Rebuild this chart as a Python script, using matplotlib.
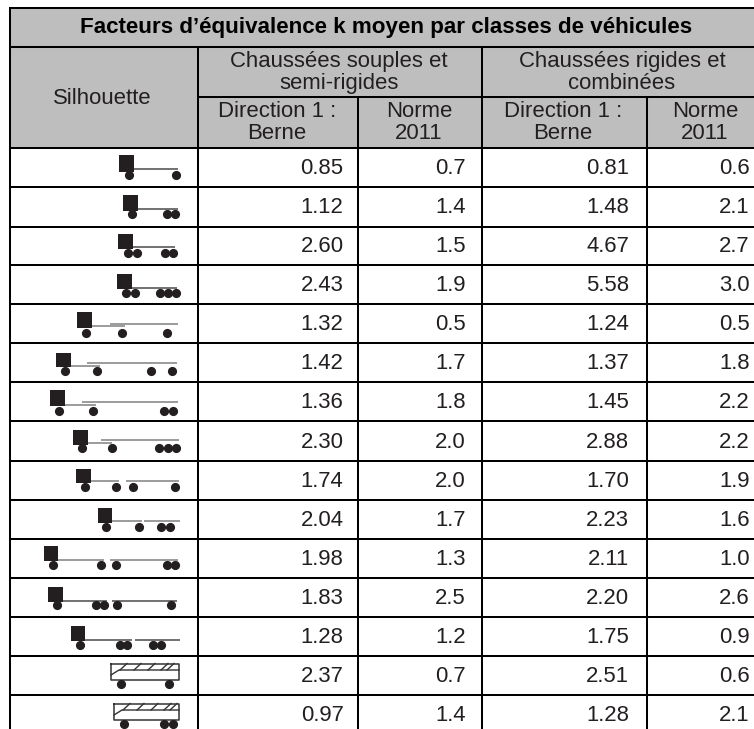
import matplotlib
matplotlib.use("Agg")
import matplotlib.pyplot as plt

plt.rcParams['font.family'] = ['Liberation Sans', 'DejaVu Sans']

title = "Facteurs d\u2019équivalence k moyen par classes de véhicules"
group_labels = ["Chaussées souples et\nsemi-rigides", "Chaussées rigides et\ncombinées"]
sub_labels = ["Direction 1 :\nBerne", "Norme\n2011", "Direction 1 :\nBerne", "Norme\n2011"]

souple_berne = ["0.85", "1.12", "2.60", "2.43", "1.32", "1.42", "1.36", "2.30", "1.74", "2.04", "1.98", "1.83", "1.28", "2.37", "0.97"]
souple_norme = ["0.7", "1.4", "1.5", "1.9", "0.5", "1.7", "1.8", "2.0", "2.0", "1.7", "1.3", "2.5", "1.2", "0.7", "1.4"]
rigide_berne = ["0.81", "1.48", "4.67", "5.58", "1.24", "1.37", "1.45", "2.88", "1.70", "2.23", "2.11", "2.20", "1.75", "2.51", "1.28"]
rigide_norme = ["0.6", "2.1", "2.7", "3.0", "0.5", "1.8", "2.2", "2.2", "1.9", "1.6", "1.0", "2.6", "0.9", "0.6", "2.1"]

# table grid, in pixels of the picture
row_y = [147.5, 186.5, 226.5, 265, 304, 343, 382, 421, 461, 500, 539, 578, 617, 656, 695, 734]
col_x = [10, 197.5, 357.5, 481.5, 646.5, 754]
right_x = [343.5, 466, 629, 750]

# silhouettes: cab left edge, cab top, cab bottom, trailer bars (x0, x1, y, grey), wheel y, wheels x
trucks = [
    (119, 155, 172, [(134, 178, 169, False)], 175, [129, 176]),
    (123, 195, 211, [(137, 178, 208.7, False)], 214, [132, 167, 175]),
    (118, 234, 249, [(132, 175, 247.3, False)], 253.3, [128, 137, 165, 173]),
    (117, 274, 289, [(130, 177, 287.7, False)], 292.7, [126, 135, 160, 168, 176]),
    (77, 312, 328, [(90, 125, 326, True), (110, 178, 324, True)], 333, [86, 121.5, 167]),
    (56, 352.7, 367, [(69, 100, 366, True), (87, 177, 363.3, True)], 371, [65, 97, 151, 172]),
    (50, 390, 406, [(63, 96, 405, True), (82, 178, 402, True)], 411, [59, 93, 164, 173]),
    (73, 430, 444.7, [(86, 112, 442.7, True), (101, 179, 440, True)], 448, [82, 112, 159, 168, 176]),
    (76, 468.7, 483, [(89, 119, 480.7, True), (126, 179, 480.7, True)], 486.7, [85, 116, 133, 175]),
    (97.5, 507.7, 522.7, [(110, 142, 520.7, True), (144, 180, 520.7, True)], 527.3, [106, 139, 161, 170]),
    (43.5, 545.7, 561.3, [(57, 104, 560, True), (110, 178, 560, True)], 565.3, [53, 101, 116, 167, 175]),
    (48, 587.3, 602, [(61, 107, 600.7, False), (112, 177, 600.7, False)], 605.3, [57, 96, 104, 117, 171]),
    (70.5, 626, 641.3, [(84, 132, 640, False), (135, 180, 640, False)], 645.3, [80, 120, 127, 153, 161]),
]
# buses: left, right, top, bottom, wheel y, wheels x
buses = [
    (111, 179, 663.5, 680, 684.3, [121, 169]),
    (114, 179, 703.5, 719.5, 724, [123.5, 164, 173]),
]
hatch_offsets = [9, 23, 37, 50, 56]

HEAD = '#bebebe'
INK = '#231f20'
FS = 15.9

fig = plt.figure(figsize=(7.54, 7.29), dpi=100)
ax = fig.add_axes([0, 0, 1, 1])
ax.set_xlim(0, 754)
ax.set_ylim(729, 0)
ax.axis('off')

# header background
ax.fill_between([10, 754], 8, row_y[0], color=HEAD, lw=0, zorder=0)

# grid
lw = 1.45
ax.hlines(8, 9, 754, color='k', lw=lw)
ax.hlines(46.8, 10, 754, color='k', lw=lw)
ax.hlines(96.8, col_x[1], 754, color='k', lw=lw)
ax.hlines(row_y[:-1], 10, 754, color='k', lw=lw)
ax.vlines(10, 8, 729, color='k', lw=lw)
ax.vlines([col_x[1], col_x[3]], 46.8, 729, color='k', lw=lw)
ax.vlines([col_x[2], col_x[4]], 96.8, 729, color='k', lw=lw)

# header text
ax.text(386, 27.5, title, ha='center', va='center', fontsize=16.1, fontweight='bold', color='k')
ax.text(102.5, 98, "Silhouette", ha='center', va='center', fontsize=FS, color=INK)
ax.text(339, 72.5, group_labels[0], ha='center', va='center', fontsize=FS, color=INK, linespacing=1.1)
ax.text(622, 72.5, group_labels[1], ha='center', va='center', fontsize=FS, color=INK, linespacing=1.1)
sub_centres = [277, 419, 563, 705]
for cx, lab in zip(sub_centres, sub_labels):
    ax.text(cx, 122.5, lab, ha='center', va='center', fontsize=FS, color=INK, linespacing=1.1)

# values
columns = [souple_berne, souple_norme, rigide_berne, rigide_norme]
for rx, col in zip(right_x, columns):
    for i, v in enumerate(col):
        ymid = (row_y[i] + min(row_y[i + 1], 734)) / 2
        ax.text(rx, ymid + 1, v, ha='right', va='center', fontsize=FS, color=INK)

# trucks
for left, top, bottom, bars, wy, wheels in trucks:
    ax.fill_between([left, left + 14.5], top, bottom, color=INK, lw=0, zorder=3)
    for x0, x1, y, grey in bars:
        ax.plot([x0, x1], [y, y], color='#808080' if grey else '#4a4a4a', lw=1.1, solid_capstyle='butt', zorder=2)
    ax.plot(wheels, [wy] * len(wheels), 'o', color=INK, ms=6.6, mew=0, ls='none', zorder=3)

# buses
for left, right, top, bottom, wy, wheels in buses:
    ax.plot([left, right, right, left, left], [top, top, bottom, bottom, top], color='#333333', lw=1.1, zorder=2)
    mid = top + 6.5
    ax.plot([left, left + 8, right], [mid + 5, mid, mid], color='#333333', lw=1.0, zorder=2)
    for off in hatch_offsets:
        ax.plot([left + off, left + off + 7], [mid, top], color='#333333', lw=1.0, zorder=2)
    ax.plot(wheels, [wy] * len(wheels), 'o', color=INK, ms=6.6, mew=0, ls='none', zorder=3)

fig.savefig('out.png', dpi=100)
